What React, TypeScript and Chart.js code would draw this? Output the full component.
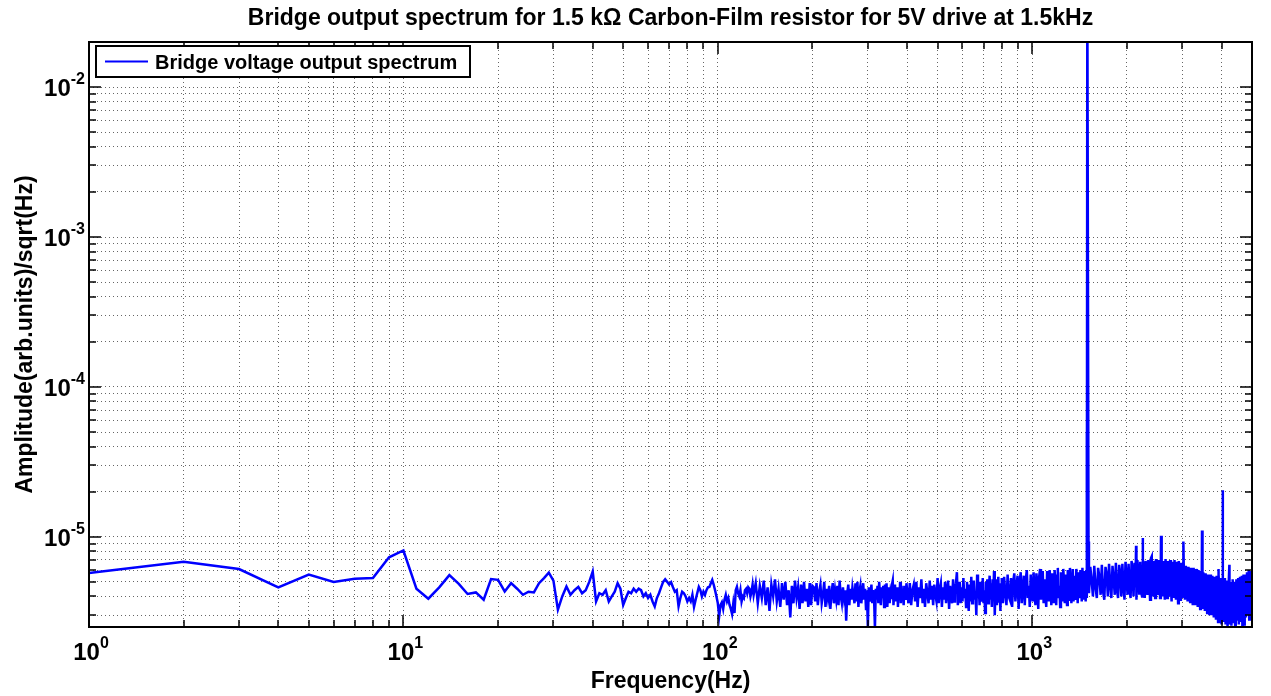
import React, { useEffect, useRef } from 'react';
import { Chart, registerables } from 'chart.js';

Chart.register(...registerables);

const TITLE = 'Bridge output spectrum for 1.5 kΩ Carbon-Film resistor for 5V drive at 1.5kHz';
const X_LABEL = 'Frequency(Hz)';
const Y_LABEL = 'Amplitude(arb.units)/sqrt(Hz)';
const SERIES_LABEL = 'Bridge voltage output spectrum';

// Amplitudes are stored in units of 1e-6 (arb.units/sqrt(Hz)).
const MICRO = 1e-6;

// 1 Hz bins from 1 Hz to 130 Hz.
const lowAmp = [
  5.72, 6.81, 6.09, 4.59, 5.6, 4.99, 5.25, 5.3, 7.3, 8.1,
  4.5, 3.86, 4.6, 5.55, 4.85, 4.15, 4.25, 3.8, 5.22, 5.16,
  4.32, 4.9, 4.5, 4.1, 4.3, 4.25, 4.9, 5.3, 5.77, 5.1,
  3.26, 4.0, 4.66, 4.1, 4.4, 4.63, 4.2, 4.4, 5.0, 5.86,
  3.7, 4.2, 4.1, 4.4, 3.7, 4.0, 4.3, 4.9, 4.5, 3.5,
  3.9, 4.3, 4.2, 4.5, 4.3, 4.5, 4.4, 4.0, 4.2, 3.9,
  4.1, 3.7, 3.43, 3.9, 4.2, 4.6, 5.0, 5.2, 5.0, 4.8,
  4.97, 4.6, 4.3, 4.4, 3.43, 3.9, 4.3, 4.2, 4.0, 3.7,
  3.9, 3.7, 4.1, 3.4, 3.8, 4.2, 4.63, 4.4, 4.0, 4.3,
  4.1, 4.4, 4.6, 4.63, 4.9, 5.16, 4.8, 4.4, 4.0, 3.6,
  2.95, 3.5, 3.65, 3.3, 3.8, 4.1, 3.7, 3.9, 3.5, 3.3,
  3.05, 3.6, 3.1, 4.4, 4.63, 4.2, 4.0, 4.4, 3.7, 4.0,
  3.9, 4.4, 4.5, 4.2, 4.6, 4.5, 4.0, 4.3, 4.8, 4.1,
];

// Noise floor, read band by band. Each band lists the amplitude of every
// plotted bin, starting at bandXStart Hz and spaced bandXStep Hz apart.
const bandAStart = 132;
const bandAStep = 2;
const bandA = [
  4.9, 3.6, 4.7, 3.9, 5.1, 3.5, 4.6, 3.2, 4.8, 4.0,
  5.2, 3.7, 4.5, 3.4, 4.9, 3.8, 5.0, 3.5, 4.4, 2.9,
  4.7, 3.6, 5.1, 3.9, 4.6, 3.3, 4.8, 3.6, 5.0, 3.7,
  4.5, 3.4, 4.9, 3.5, 4.7,
];

const bandBStart = 202;
const bandBStep = 2;
const bandB = [
  4.6, 3.7, 4.9, 3.5, 4.3, 4.8, 3.6, 4.1, 5.0, 3.4,
  4.5, 3.9, 4.7, 3.3, 4.2, 4.9, 3.6, 4.4, 3.8, 4.7,
  3.5, 5.1, 4.0, 3.6, 4.6, 3.9, 4.4, 2.75, 4.2, 4.8,
  3.5, 4.5, 3.8, 4.6, 4.1, 3.6, 4.9, 3.7, 5.0, 3.4,
  4.3, 4.7, 3.6, 4.2, 4.9, 3.8, 4.5, 3.3, 4.4, 2.5,
  4.6, 3.7, 4.1, 4.8, 3.6, 4.4, 3.9, 2.45, 4.5, 3.8,
  4.7, 3.6, 5.0, 4.0, 3.5, 4.6, 3.9, 4.7, 3.4, 4.8,
  3.8, 4.9, 3.4, 4.3, 4.6, 3.6, 4.2, 3.9, 4.8, 5.1,
  3.5, 4.4, 4.8, 3.7, 4.1, 4.6, 3.4, 4.5, 3.8, 5.0,
  3.6, 4.7, 3.9, 4.3, 3.5, 4.7, 4.1, 3.8, 4.9, 4.4,
];

const bandCStart = 404;
const bandCStep = 4;
const bandC = [
  3.6, 4.9, 3.5, 4.4, 4.8, 3.7, 5.0, 3.4, 4.6, 3.9,
  5.2, 3.6, 4.5, 3.4, 4.9, 4.2, 3.6, 5.1, 3.8, 4.7,
  3.5, 4.8, 4.1, 3.7, 5.3, 3.6, 4.5, 4.9, 3.4, 4.6,
  3.8, 5.0, 3.6, 4.4, 5.1, 3.3, 4.7, 4.0, 3.6, 5.2,
  3.7, 4.6, 4.9, 5.8, 3.5, 4.3, 5.0, 3.6, 4.6, 3.7,
  5.3, 3.9, 4.5, 3.4, 5.0, 4.2, 3.2, 4.8, 3.7, 5.4,
  3.6, 4.7, 5.1, 3.8, 4.3, 3.0, 5.6, 3.9, 4.6, 3.5,
  5.0, 4.1, 3.7, 5.3, 3.6, 4.4, 3.1, 5.0, 4.6, 5.2,
  3.6, 4.5, 5.5, 3.8, 4.9, 3.4, 5.2, 4.0, 5.9, 3.0,
  4.7, 5.2, 3.5, 4.4, 5.4, 3.7, 4.9, 3.2, 4.6, 5.3,
];

const bandDStart = 807;
const bandDStep = 7;
const bandD = [
  3.6, 5.4, 4.2, 3.5, 5.6, 4.0, 3.8, 5.3, 3.4, 5.0,
  5.7, 3.7, 4.6, 5.5, 3.3, 4.9, 5.8, 3.6, 4.4, 5.5,
  3.5, 5.2, 6.0, 3.9, 4.7, 3.4, 5.6, 4.3, 3.7, 5.8,
  4.0, 3.5, 5.7, 4.8, 3.3, 5.4, 6.1, 3.8, 4.5, 5.9,
  3.6, 5.2, 4.1, 3.4, 5.9, 4.6, 3.7, 6.0, 5.0, 3.5,
  5.7, 4.3, 3.6, 6.0, 4.8, 3.5, 5.5, 6.2, 3.9, 4.7,
  3.4, 5.8, 4.4, 3.7, 6.1, 5.1, 3.6, 5.6, 4.2, 3.5,
  6.0, 4.7, 3.8, 6.2, 5.3, 3.6, 4.9, 6.1, 3.7, 5.5,
  4.1, 3.8, 6.1, 5.0, 3.6, 5.8, 4.5, 3.9, 6.0, 5.2,
  3.7, 6.2, 4.6, 3.8, 5.9, 4.9, 3.7, 6.0, 3.9,
];

const bandEStart = 1515;
const bandEStep = 15;
const bandE = [
  4.2, 6.3, 5.1, 4.0, 6.4, 4.6, 3.9, 6.2, 5.4, 4.1,
  6.5, 4.3, 3.8, 6.3, 5.6, 4.0, 6.6, 4.8, 3.9, 6.4,
  5.2, 4.1, 6.7, 4.4, 3.9, 6.5, 5.7, 4.0, 6.6, 4.7,
  3.8, 6.8, 5.3, 4.1, 6.6, 4.5, 3.9, 6.9, 5.8, 4.0,
  6.7, 4.6, 3.8, 7.0, 5.5, 4.1, 6.8, 4.3, 4.0, 7.1,
  5.9, 3.9, 6.9, 4.7, 4.1, 7.0, 5.4, 3.8, 7.2, 4.6,
  4.0, 6.9, 5.8, 3.9, 7.1, 4.4, 4.1, 7.0, 5.6, 3.9,
  7.2, 4.8, 4.0, 6.9, 5.5, 3.8, 7.1, 4.5, 3.9, 6.9,
  5.7, 4.0, 7.0, 4.6, 3.7, 6.8, 5.3, 3.9, 7.0, 4.4,
  3.8, 6.8, 5.5, 3.6, 6.9, 4.6, 3.8, 6.7, 5.2, 3.9,
];

const bandFStart = 3020;
const bandFStep = 20;
const bandF = [
  6.5, 4.7, 3.8, 6.4, 5.2, 3.7, 6.3, 4.5, 3.6, 6.2,
  5.0, 3.5, 6.2, 4.4, 3.5, 6.1, 5.1, 3.4, 6.0, 4.3,
  3.3, 5.9, 4.8, 3.3, 5.8, 4.2, 3.2, 5.7, 4.6, 3.1,
  5.6, 4.1, 3.0, 5.6, 4.5, 3.0, 5.5, 3.9, 2.9, 5.4,
  4.3, 2.8, 5.5, 3.8, 2.7, 5.6, 4.2, 2.7, 5.3, 2.6,
  4.0, 5.2, 2.7, 3.6, 5.3, 2.6, 4.4, 5.1, 2.5, 3.7,
  5.2, 2.6, 4.1, 5.0, 2.55, 3.5, 5.2, 2.7, 4.3, 5.0,
  2.5, 3.8, 5.2, 2.8, 4.2, 5.3, 2.6, 3.6, 5.4, 2.7,
  4.4, 5.5, 2.5, 3.9, 5.6, 2.6, 4.3, 5.6, 2.9, 3.8,
  5.8, 3.0, 4.5, 6.0, 2.8, 3.9, 5.9, 3.0, 4.6, 5.7,
];

// The 1.5 kHz drive line: [frequency Hz, amplitude].
const driveTone: [number, number][] = [
  [1490, 50], [1497, 50000], [1503, 50000], [1510, 9.3],
];

// Narrow lines standing above the noise floor: [frequency Hz, amplitude].
const harmonicLines: [number, number][] = [
  [2139, 8.7], [2246, 9.8], [2399, 7.4], [2568, 10.15], [3025, 9.3],
  [3467, 11.0], [3908, 6.1], [4036, 20.4], [4236, 6.5],
];

// Axis limits
const X_MIN = 1;
const X_MAX = 5000;
const Y_MIN = 2.5e-6;
const Y_MAX = 0.02;

// Decade ticks with their exponent labels, and the minor ticks in between.
const xMajorTicks = [1, 10, 100, 1000];
const xMajorExp = ['0', '1', '2', '3'];
const xMinorTicks = [
  2, 3, 4, 5, 6, 7, 8, 9,
  20, 30, 40, 50, 60, 70, 80, 90,
  200, 300, 400, 500, 600, 700, 800, 900,
  2000, 3000, 4000,
];
const yMajorTicks = [1e-5, 1e-4, 1e-3, 1e-2];
const yMajorExp = ['-5', '-4', '-3', '-2'];
const yMinorTicks = [
  3e-6, 4e-6, 5e-6, 6e-6, 7e-6, 8e-6, 9e-6,
  2e-5, 3e-5, 4e-5, 5e-5, 6e-5, 7e-5, 8e-5, 9e-5,
  2e-4, 3e-4, 4e-4, 5e-4, 6e-4, 7e-4, 8e-4, 9e-4,
  2e-3, 3e-3, 4e-3, 5e-3, 6e-3, 7e-3, 8e-3, 9e-3,
];

const FONT = '"Liberation Sans", Arial, Helvetica, sans-serif';
const LINE_BLUE = '#0000ff';
const GRID_COLOR = 'rgba(0,0,0,0.6)';

const W = 1271;
const H = 696;

function bandPoints(start: number, step: number, amps: number[]): [number, number][] {
  return amps.map((a, i) => [start + i * step, a]);
}

function drawPower(
  ctx: CanvasRenderingContext2D,
  exp: string,
  x: number,
  baseline: number,
  align: 'center' | 'right',
) {
  const basePx = 24;
  const expPx = 16;
  ctx.font = `bold ${basePx}px ${FONT}`;
  const wb = ctx.measureText('10').width;
  ctx.font = `bold ${expPx}px ${FONT}`;
  const we = ctx.measureText(exp).width;
  const total = wb + we;
  const left = align === 'center' ? x - total / 2 : x - total;
  ctx.textAlign = 'left';
  ctx.textBaseline = 'alphabetic';
  ctx.font = `bold ${basePx}px ${FONT}`;
  ctx.fillText('10', left, baseline);
  ctx.font = `bold ${expPx}px ${FONT}`;
  ctx.fillText(exp, left + wb, baseline - 12);
}

const framePlugin = {
  id: 'axesFrame',
  afterDraw(chart: any) {
    const { ctx, chartArea: a, scales } = chart;
    const xs = scales.x;
    const ys = scales.y;
    ctx.save();

    // inward tick marks on all four sides
    ctx.strokeStyle = '#000';
    ctx.lineWidth = 1.5;
    const seg = (x1: number, y1: number, x2: number, y2: number) => {
      ctx.beginPath();
      ctx.moveTo(x1, y1);
      ctx.lineTo(x2, y2);
      ctx.stroke();
    };
    const xTick = (v: number, len: number) => {
      const px = Math.round(xs.getPixelForValue(v));
      seg(px, a.bottom, px, a.bottom - len);
      seg(px, a.top, px, a.top + len);
    };
    const yTick = (v: number, len: number) => {
      const py = Math.round(ys.getPixelForValue(v));
      seg(a.left, py, a.left + len, py);
      seg(a.right, py, a.right - len, py);
    };
    xMajorTicks.forEach((v) => xTick(v, 12));
    xMinorTicks.forEach((v) => xTick(v, 7));
    yMajorTicks.forEach((v) => yTick(v, 12));
    yMinorTicks.forEach((v) => yTick(v, 7));

    // axes box
    ctx.lineWidth = 2;
    ctx.strokeRect(a.left, a.top, a.right - a.left, a.bottom - a.top);

    // tick labels
    ctx.fillStyle = '#000';
    xMajorTicks.forEach((v, i) => {
      drawPower(ctx, xMajorExp[i], xs.getPixelForValue(v) + 2, 660, 'center');
    });
    yMajorTicks.forEach((v, i) => {
      const py = ys.getPixelForValue(v);
      drawPower(ctx, yMajorExp[i], a.left - 4, py + 9, 'right');
    });

    // title and axis labels
    const cx = (a.left + a.right) / 2;
    const cy = (a.top + a.bottom) / 2;
    ctx.font = `bold 23px ${FONT}`;
    ctx.textAlign = 'center';
    ctx.textBaseline = 'alphabetic';
    ctx.fillText(TITLE, cx, 25);
    ctx.fillText(X_LABEL, cx, 688);
    ctx.save();
    ctx.translate(32, cy);
    ctx.rotate(-Math.PI / 2);
    ctx.fillText(Y_LABEL, 0, 0);
    ctx.restore();

    // legend
    const lx = a.left + 7;
    const ly = a.top + 4;
    const lw = 374;
    const lh = 31;
    ctx.fillStyle = '#fff';
    ctx.fillRect(lx, ly, lw, lh);
    ctx.strokeStyle = '#000';
    ctx.lineWidth = 2;
    ctx.strokeRect(lx, ly, lw, lh);
    ctx.strokeStyle = LINE_BLUE;
    ctx.lineWidth = 2;
    seg(lx + 9, ly + 15.5, lx + 52, ly + 15.5);
    ctx.fillStyle = '#000';
    ctx.font = `bold 20px ${FONT}`;
    ctx.textAlign = 'left';
    ctx.fillText(SERIES_LABEL, lx + 59, ly + 23);

    ctx.restore();
  },
};

export default function App() {
  const canvasRef = useRef<HTMLCanvasElement | null>(null);

  useEffect(() => {
    const canvas = canvasRef.current;
    if (!canvas) return;

    const spectrum: [number, number][] = [
      ...lowAmp.map((a, i): [number, number] => [i + 1, a]),
      ...bandPoints(bandAStart, bandAStep, bandA),
      ...bandPoints(bandBStart, bandBStep, bandB),
      ...bandPoints(bandCStart, bandCStep, bandC),
      ...bandPoints(bandDStart, bandDStep, bandD),
      ...driveTone,
      ...bandPoints(bandEStart, bandEStep, bandE),
      ...bandPoints(bandFStart, bandFStep, bandF),
      ...harmonicLines,
    ].sort((p, q) => p[0] - q[0]);

    const points = spectrum.map(([f, a]) => ({ x: f, y: a * MICRO }));

    const gridTicksX = [...xMajorTicks, ...xMinorTicks].sort((p, q) => p - q);
    const gridTicksY = [...yMajorTicks, ...yMinorTicks].sort((p, q) => p - q);

    const chart = new Chart(canvas, {
      type: 'line',
      data: {
        datasets: [
          {
            label: SERIES_LABEL,
            data: points,
            borderColor: LINE_BLUE,
            borderWidth: 2.5,
            pointRadius: 0,
            tension: 0,
            fill: false,
          },
        ],
      },
      options: {
        animation: false,
        responsive: false,
        devicePixelRatio: 1,
        events: [],
        layout: { padding: { left: 89, right: 19, top: 42, bottom: 69 } },
        plugins: {
          legend: { display: false },
          title: { display: false },
          tooltip: { enabled: false },
        },
        scales: {
          x: {
            type: 'logarithmic',
            min: X_MIN,
            max: X_MAX,
            afterBuildTicks: (scale: any) => {
              scale.ticks = gridTicksX.map((v) => ({ value: v }));
            },
            ticks: { display: false, autoSkip: false },
            grid: { color: GRID_COLOR, lineWidth: 1, drawTicks: false },
            border: { display: false, dash: [1, 3] },
          },
          y: {
            type: 'logarithmic',
            min: Y_MIN,
            max: Y_MAX,
            afterBuildTicks: (scale: any) => {
              scale.ticks = gridTicksY.map((v) => ({ value: v }));
            },
            ticks: { display: false, autoSkip: false },
            grid: { color: GRID_COLOR, lineWidth: 1, drawTicks: false },
            border: { display: false, dash: [1, 3] },
          },
        },
      },
      plugins: [framePlugin],
    });

    return () => chart.destroy();
  }, []);

  return (
    <div style={{ position: 'absolute', left: 0, top: 0, width: W, height: H, background: '#fff' }}>
      <canvas ref={canvasRef} width={W} height={H} style={{ display: 'block' }} />
    </div>
  );
}
